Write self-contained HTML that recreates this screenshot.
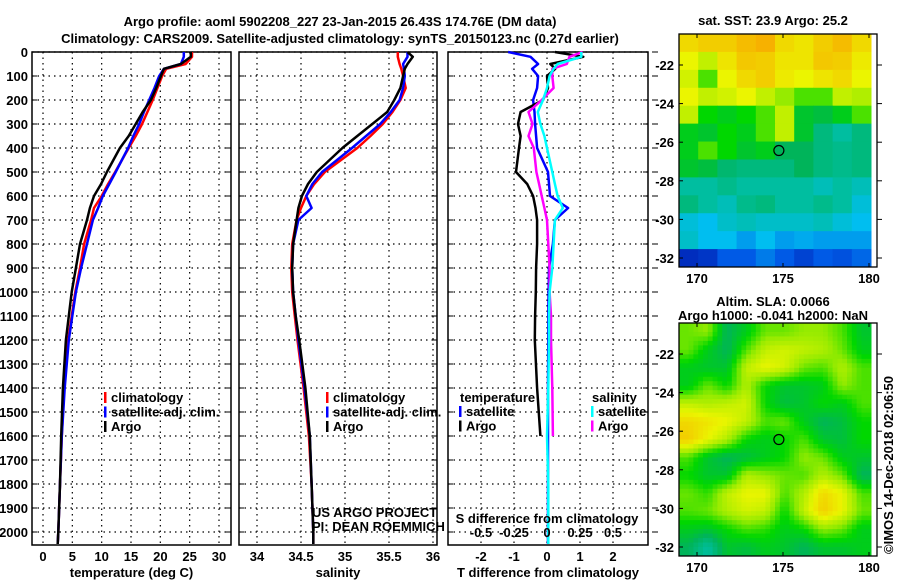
<!DOCTYPE html>
<html><head><meta charset="utf-8"><style>
body{margin:0;background:#fff;width:900px;height:580px;overflow:hidden}
svg{display:block;font-family:"Liberation Sans",sans-serif}
.t{font-weight:bold;font-size:13px}
</style></head><body>
<svg id="c" width="900" height="580" xmlns="http://www.w3.org/2000/svg"></svg>
<script>
const pres=[0,20,50,70,100,150,200,250,300,350,400,500,550,600,650,700,800,900,1000,1100,1200,1400,1600,1800,2000,2050];
const tempClim=[25.4,25.4,24.3,21,20.3,19.5,18.7,17.8,16.9,15.8,14.6,12.3,11.1,10.0,8.7,8.2,7.0,6.3,5.5,4.9,4.3,3.6,3.2,2.9,2.6,2.5];
const tempSat=[24.0,24.0,23.5,20.6,19.8,19.0,18.1,17.2,16.4,15.4,14.5,12.4,11.3,10.2,9.4,8.5,7.5,6.5,5.6,5.0,4.4,3.7,3.2,2.9,2.6,2.5];
const tempArgo=[25.2,25.2,23.5,20.6,20.1,19.3,18.4,17.0,15.8,14.6,13.1,10.9,9.9,8.7,8.0,7.5,6.3,5.6,4.9,4.4,3.9,3.4,3.1,2.9,2.6,2.5];
const salClim=[35.6,35.6,35.62,35.64,35.66,35.69,35.63,35.54,35.43,35.29,35.14,34.77,34.65,34.56,34.50,34.45,34.40,34.39,34.40,34.43,34.46,34.53,34.59,34.62,34.64,34.64];
const salSat=[35.71,35.71,35.66,35.67,35.68,35.66,35.62,35.52,35.40,35.24,35.08,34.74,34.63,34.56,34.62,34.47,34.41,34.40,34.41,34.44,34.47,34.54,34.60,34.62,34.64,34.64];
const salArgo=[35.71,35.77,35.71,35.68,35.66,35.63,35.56,35.48,35.31,35.14,34.97,34.68,34.58,34.51,34.47,34.45,34.41,34.40,34.41,34.44,34.48,34.55,34.60,34.62,34.64,34.64];
const dTsat=[-1.18,-0.5,-0.27,-0.45,-0.27,-0.3,-0.42,-0.38,-0.36,-0.33,-0.3,0.03,0.06,0.09,0.64,0.24,0.18,0.06,0.05,0.04,0.04,0.03,0.03,0.03,0.03,0.03];
const dTargo=[0.24,1.1,0.1,0.25,0.0,0.03,-0.12,-0.8,-0.88,-0.8,-0.85,-0.94,-0.6,-0.42,-0.35,-0.3,-0.3,-0.33,-0.34,-0.36,-0.37,-0.3,-0.2];
const dSsat=[0.26,0.26,0.08,0.05,0.02,0.0,-0.03,-0.07,-0.05,-0.02,0.0,0.04,0.06,0.08,0.12,0.06,0.05,0.04,0.02,0.015,0.015,0.01,0.0,0.01,0.01,0.01];
const dSargo=[0.27,0.17,0.15,0.04,0.04,0.05,-0.04,-0.14,-0.11,-0.14,-0.1,-0.08,-0.06,-0.04,-0.02,0.0,0.01,0.02,0.02,0.03,0.03,0.04,0.045];
const depthTicks=[0,100,200,300,400,500,600,700,800,900,1000,1100,1200,1300,1400,1500,1600,1700,1800,1900,2000];
const tTicks=[0,5,10,15,20,25,30];
const sTicks=[34,34.5,35,35.5,36];
const dTTicks=[-2,-1,0,1,2];
const dSTicks=[-0.5,-0.25,0,0.25,0.5];
const lonTicks=[170,175,180];
const latTicks=[-22,-24,-26,-28,-30,-32];
const sstGrid=[
[0.9,0.92,0.92,0.95,0.97,0.9,0.88,0.92,0.95,0.9],
[0.85,0.8,0.88,0.93,0.92,0.88,0.88,0.93,0.92,0.87],
[0.82,0.7,0.85,0.9,0.92,0.87,0.85,0.88,0.9,0.85],
[0.85,0.8,0.82,0.85,0.8,0.75,0.7,0.7,0.8,0.78],
[0.8,0.65,0.62,0.65,0.7,0.8,0.6,0.58,0.62,0.7],
[0.62,0.6,0.65,0.62,0.7,0.8,0.6,0.5,0.45,0.5],
[0.62,0.7,0.65,0.6,0.62,0.55,0.55,0.5,0.48,0.5],
[0.6,0.58,0.52,0.5,0.5,0.5,0.55,0.5,0.48,0.5],
[0.45,0.45,0.48,0.45,0.45,0.45,0.45,0.42,0.45,0.42],
[0.5,0.45,0.42,0.48,0.5,0.45,0.45,0.48,0.45,0.38],
[0.38,0.35,0.4,0.42,0.4,0.4,0.4,0.42,0.38,0.35],
[0.4,0.35,0.35,0.3,0.35,0.3,0.32,0.3,0.3,0.3],
[0.1,0.12,0.2,0.2,0.25,0.2,0.15,0.2,0.18,0.22]];
const slaGrid=[
[0.72,0.75,0.55,0.62,0.72,0.72,0.75,0.75,0.7,0.6],
[0.72,0.62,0.55,0.7,0.8,0.82,0.8,0.78,0.72,0.62],
[0.62,0.6,0.6,0.8,0.85,0.82,0.72,0.7,0.78,0.7],
[0.62,0.72,0.65,0.78,0.65,0.6,0.6,0.62,0.75,0.7],
[0.8,0.78,0.8,0.82,0.65,0.58,0.6,0.65,0.62,0.7],
[0.9,0.88,0.85,0.8,0.7,0.72,0.62,0.55,0.58,0.65],
[0.92,0.85,0.78,0.65,0.62,0.65,0.7,0.6,0.58,0.65],
[0.7,0.6,0.55,0.58,0.62,0.65,0.75,0.72,0.62,0.6],
[0.65,0.6,0.6,0.78,0.75,0.72,0.7,0.78,0.72,0.55],
[0.72,0.68,0.8,0.85,0.85,0.7,0.78,0.9,0.85,0.7],
[0.7,0.72,0.78,0.82,0.8,0.65,0.8,0.92,0.85,0.72],
[0.62,0.6,0.65,0.7,0.68,0.62,0.65,0.75,0.72,0.62],
[0.55,0.45,0.6,0.58,0.62,0.6,0.55,0.6,0.6,0.62]];
const floatLon=174.76, floatLat=-26.43;

const NS="http://www.w3.org/2000/svg";
const svg=document.getElementById('c');
function mk(tag,attrs,parent){const e=document.createElementNS(NS,tag);for(const k in attrs)e.setAttribute(k,attrs[k]);(parent||svg).appendChild(e);return e;}
function txt(s,x,y,anchor,cls,parent){const e=mk('text',{x:x,y:y,'text-anchor':anchor||'middle',class:cls||'t'},parent);e.textContent=s;return e;}

const TOP=52,BOT=545;
const yP=p=>TOP+p*0.24;
const panels=[
 {name:'temperature-panel',x0:32,x1:231,v0:0,v1:30,px0:43,px1:219,ticks:tTicks,title:'temperature (deg C)'},
 {name:'salinity-panel',x0:239,x1:437,v0:34,v1:36,px0:257,px1:433,ticks:sTicks,title:'salinity'},
 {name:'difference-panel',x0:448,x1:648,v0:-2,v1:2,px0:481,px1:613,ticks:dTTicks,title:'T difference from climatology'}];
panels.forEach(p=>{p.x=v=>p.px0+(v-p.v0)*(p.px1-p.px0)/(p.v1-p.v0);});
const xS=v=>547+v*132;

panels.forEach((p,i)=>{
 const g=mk('g',{},svg);
 
 
 depthTicks.forEach(d=>{mk('line',{x1:p.x0,x2:p.x1,y1:yP(d),y2:yP(d),stroke:'#000','stroke-dasharray':'1.5,4','stroke-width':1.2},g);
   mk('line',{x1:p.x0,x2:p.x0+5,y1:yP(d),y2:yP(d),stroke:'#000'},g);mk('line',{x1:p.x1,x2:p.x1-5,y1:yP(d),y2:yP(d),stroke:'#000'},g);
   if(i==0)txt(String(d),p.x0-4,yP(d)+5,'end','t',g);});
 p.ticks.forEach(t=>{const x=p.x(t);mk('line',{x1:x,x2:x,y1:TOP,y2:BOT,stroke:'#000','stroke-dasharray':'1.5,4','stroke-width':1.2},g);
   txt(String(t),x,561,'middle','t',g);});
 mk('rect',{x:p.x0,y:TOP,width:p.x1-p.x0,height:BOT-TOP,fill:'none',stroke:'#000','stroke-width':1.5},g);
 const ti=txt(p.title,(p.x0+p.x1)/2,577,'middle','t',g);
 
 
});
depthTicks.forEach(d=>mk('line',{x1:652,x2:658,y1:yP(d),y2:yP(d),stroke:'#000'}));

function line(vals,xf,color,w,name){const pts=vals.map((v,i)=>xf(v).toFixed(1)+','+yP(pres[i]).toFixed(1)).join(' ');
 const e=mk('polyline',{points:pts,fill:'none',stroke:color,'stroke-width':w,'stroke-linejoin':'round'});
 
 }
const P=panels;
line(tempClim,P[0].x,'#f00',2.5,'temp-climatology-line');
line(tempSat,P[0].x,'#00f',2.5,'temp-satellite-line');
line(tempArgo,P[0].x,'#000',2.5,'temp-argo-line');
line(salClim,P[1].x,'#f00',2.5,'sal-climatology-line');
line(salSat,P[1].x,'#00f',2.5,'sal-satellite-line');
line(salArgo,P[1].x,'#000',2.5,'sal-argo-line');
line(dTsat,P[2].x,'#00f',2.5,'tdiff-satellite-line');
line(dTargo,P[2].x,'#000',2.5,'tdiff-argo-line');
line(dSargo,xS,'#f0f',2.5,'sdiff-argo-line');
line(dSsat,xS,'#0ff',2.5,'sdiff-satellite-line');

const sg=mk('g',{});


txt('S difference from climatology',547,523,'middle','t',sg);
dSTicks.forEach(s=>txt(String(s),xS(s),537,'middle','t',sg));

function legend(x,items,name,head){const g=mk('g',{});
 
 
 let y=402; if(head){txt(head,x-8,y,'start','t',g);y+=14;}
 items.forEach(([c,l])=>{mk('rect',{x:x-9,y:y-10,width:2.5,height:11,fill:c},g);txt(l,x-2,y,'start','t',g);y+=14.5;});}
legend(113,[['#f00','climatology'],['#00f','satellite-adj. clim.'],['#000','Argo']],'temperature-legend');
legend(335,[['#f00','climatology'],['#00f','satellite-adj. clim.'],['#000','Argo']],'salinity-legend');
legend(468,[['#00f','satellite'],['#000','Argo']],'tdiff-legend','temperature');
legend(600,[['#0ff','satellite'],['#f0f','Argo']],'sdiff-legend','salinity');
const c1=txt('US ARGO PROJECT',312,517,'start','');
c1.setAttribute('font-size','12');


const c2=txt('PI: DEAN ROEMMICH',312,531,'start','');
c2.setAttribute('font-size','12');



const t1=txt('Argo profile: aoml 5902208_227 23-Jan-2015 26.43S 174.76E (DM data)',340,26,'middle','t');
t1.setAttribute('font-size','14.5');


const t2=txt('Climatology: CARS2009. Satellite-adjusted climatology: synTS_20150123.nc (0.27d earlier)',340,43,'middle','t');
t2.setAttribute('font-size','14.5');



function cmap(v){const st=[[0,[0,0,150]],[0.2,[0,90,230]],[0.35,[0,190,240]],[0.45,[0,190,160]],[0.55,[0,180,90]],[0.65,[0,215,0]],[0.75,[150,235,0]],[0.85,[235,245,0]],[1,[250,160,0]]];
 for(let i=1;i<st.length;i++){if(v<=st[i][0]){const a=st[i-1],b=st[i],f=(v-a[0])/(b[0]-a[0]);return 'rgb('+a[1].map((c,k)=>Math.round(c+(b[1][k]-c)*f)).join(',')+')';}}return 'rgb(250,160,0)';}
function sample(grid,fy,fx){const R=grid.length,C=grid[0].length;
 const y=Math.min(Math.max(fy-0.5,0),R-1),x=Math.min(Math.max(fx-0.5,0),C-1);
 const y0=Math.floor(y),x0=Math.floor(x),y1=Math.min(y0+1,R-1),x1=Math.min(x0+1,C-1),a=y-y0,b=x-x0;
 return grid[y0][x0]*(1-a)*(1-b)+grid[y0][x1]*(1-a)*b+grid[y1][x0]*a*(1-b)+grid[y1][x1]*a*b;}
function map(y0,y1,grid,name,title1,title2,sub){
 const x0=679,x1=877,cx1=871;
 const lonX=l=>697+(l-170)*17.2;
 const latY=l=>y0+31+(-22-l)*19.3;
 const g=mk('g',{});
 
 
 const rows=grid.length,cols=grid[0].length,R=rows*sub,C=cols*sub,cw=(cx1-x0)/C,ch=(y1-y0)/R;
 for(let ri=0;ri<R;ri++)for(let ci=0;ci<C;ci++){
   const v=sub==1?grid[ri][ci]:sample(grid,(ri+0.5)/sub,(ci+0.5)/sub);
   const c=mk('rect',{x:(x0+ci*cw).toFixed(2),y:(y0+ri*ch).toFixed(2),width:(cw+0.5).toFixed(2),height:(ch+0.5).toFixed(2),fill:cmap(v)},g);
   
   }
 mk('rect',{x:x0,y:y0,width:x1-x0,height:y1-y0,fill:'none',stroke:'#000','stroke-width':1.3},g);
 lonTicks.forEach(l=>{mk('line',{x1:lonX(l),x2:lonX(l),y1:y0,y2:y0+4,stroke:'#000'},g);mk('line',{x1:lonX(l),x2:lonX(l),y1:y1,y2:y1-4,stroke:'#000'},g);txt(String(l),lonX(l),y1+16,'middle','t',g);});
 latTicks.forEach(l=>{mk('line',{x1:x0,x2:x0+4,y1:latY(l),y2:latY(l),stroke:'#000'},g);mk('line',{x1:x1,x2:x1+5,y1:latY(l),y2:latY(l),stroke:'#000'},g);txt(String(l),x0-5,latY(l)+5,'end','t',g);});
 mk('circle',{cx:lonX(floatLon),cy:latY(floatLat),r:5,fill:'none',stroke:'#000','stroke-width':1.2},g);
 if(title2){txt(title1,773,y0-17,'middle','t',g);txt(title2,773,y0-3,'middle','t',g);} else txt(title1,773,y0-9,'middle','t',g);
}
map(34,267,sstGrid,'sst-map','sat. SST: 23.9 Argo: 25.2',null,1);
map(323,556,slaGrid,'sla-map','Altim. SLA: 0.0066','Argo h1000: -0.041 h2000: NaN',4);
const cr=txt('©IMOS 14-Dec-2018 02:06:50',0,0,'middle','');
cr.setAttribute('font-size','13');
cr.setAttribute('transform','translate(893,465) rotate(-90)');


</script>
</body></html>
